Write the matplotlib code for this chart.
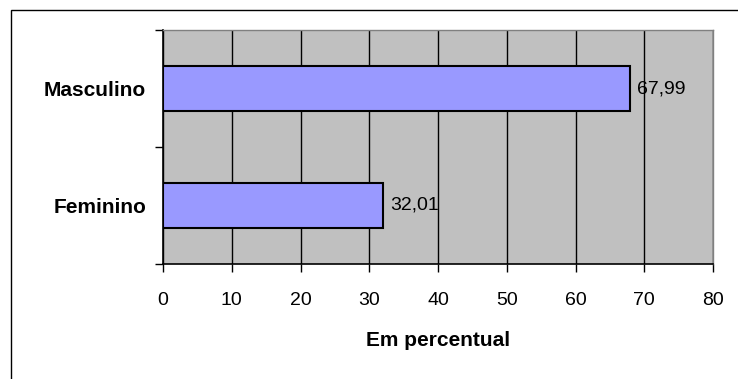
import matplotlib.pyplot as plt
from matplotlib.patches import Rectangle

# participação por sexo (%)
categorias = ['Feminino', 'Masculino']
percentuais = [32.01, 67.99]
rotulos = ['32,01', '67,99']
ticks_x = [0, 10, 20, 30, 40, 50, 60, 70, 80]

plt.rcParams['font.family'] = ['Liberation Sans', 'DejaVu Sans']

fig = plt.figure(figsize=(7.38, 3.79), dpi=100)
fig.patch.set_facecolor('white')

# moldura externa do gráfico
fig.patches.append(Rectangle((11 / 738, -0.05), 1.0, 1 - 10 / 379 + 0.05,
                             transform=fig.transFigure, fill=False,
                             edgecolor='black', linewidth=1.0))

ax = fig.add_axes([163 / 738, 1 - 264 / 379, 550 / 738, 234 / 379])
ax.set_facecolor('#C0C0C0')

y = range(len(categorias))
ax.barh(y, percentuais, height=0.38, color='#9999FF', edgecolor='black',
        linewidth=1.5, zorder=3)
for yi, v, r in zip(y, percentuais, rotulos):
    ax.annotate(r, (v, yi), xytext=(5, 0), textcoords='offset points',
                va='center', ha='left', fontsize=14, zorder=4)

ax.set_xlim(0, 80)
ax.set_ylim(-0.5, 1.5)
ax.set_xticks(ticks_x)
ax.set_xticklabels([str(t) for t in ticks_x], fontsize=14)
ax.xaxis.grid(True, color='black', linewidth=1.0, zorder=1)
ax.set_axisbelow(True)

ax.set_yticks([-0.5, 0.5, 1.5])
ax.set_yticklabels([])
ax.set_yticks([0, 1], minor=True)
ax.set_yticklabels(categorias, minor=True, fontsize=15, fontweight='bold')
ax.tick_params(axis='y', which='minor', length=0, pad=12)
ax.tick_params(axis='y', which='major', length=6, width=1, direction='out')
ax.tick_params(axis='x', length=6, width=1, direction='out', pad=14)

ax.set_xlabel('Em percentual', fontsize=15, fontweight='bold', labelpad=16)

for s in ['left', 'bottom']:
    ax.spines[s].set_color('black')
    ax.spines[s].set_linewidth(1.2)
for s in ['top', 'right']:
    ax.spines[s].set_color('#808080')
    ax.spines[s].set_linewidth(1.0)

fig.savefig('out.png', dpi=100)
